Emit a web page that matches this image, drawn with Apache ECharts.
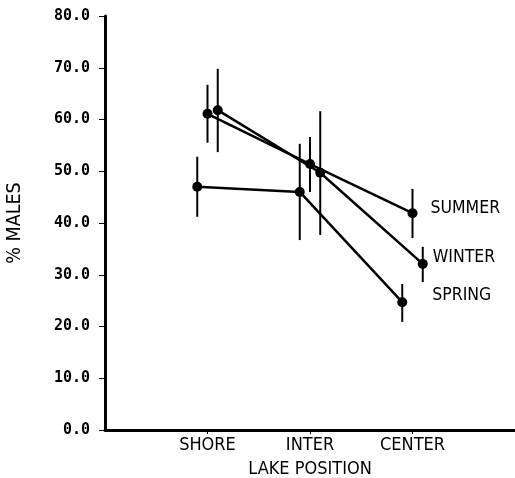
<!DOCTYPE html>
<html>
<head>
<meta charset="utf-8">
<script src="https://cdn.jsdelivr.net/npm/echarts@6/dist/echarts.min.js"></script>
<style>
  html, body { margin: 0; padding: 0; background: #fff; }
  #main { width: 515px; height: 478px; }
</style>
</head>
<body>
<div id="main"></div>
<script>
// 湖の位置 (x軸カテゴリ)
var positions = ['SHORE', 'INTER', 'CENTER'];
var seasons = ['SPRING', 'SUMMER', 'WINTER'];

// % males, with error bar low / high
var springMean = [47.0, 46.0, 24.7];
var springLow  = [41.2, 36.7, 20.9];
var springHigh = [52.8, 55.3, 28.2];

var summerMean = [61.1, 51.4, 41.9];
var summerLow  = [55.5, 46.0, 37.1];
var summerHigh = [66.7, 56.6, 46.6];

var winterMean = [61.8, 49.7, 32.1];
var winterLow  = [53.7, 37.7, 28.6];
var winterHigh = [69.8, 61.6, 35.4];

// small horizontal shift so the series don't sit on top of each other
var jitter = { SPRING: -0.1, SUMMER: 0, WINTER: 0.1 };
var labelOffset = { SPRING: [20, -7], SUMMER: [8, -5], WINTER: [0, -6] };

var seriesData = {
  SPRING: { mean: springMean, low: springLow, high: springHigh },
  SUMMER: { mean: summerMean, low: summerLow, high: summerHigh },
  WINTER: { mean: winterMean, low: winterLow, high: winterHigh }
};

var textFont = 'DejaVu Sans Condensed, Liberation Sans, Arial';

var myChart = echarts.init(document.getElementById('main'));

var series = [];
seasons.forEach(function (name) {
  var d = seriesData[name];
  var pts = d.mean.map(function (v, i) {
    var item = { value: [i + 1 + jitter[name], v] };
    if (i === d.mean.length - 1) {
      item.label = {
        show: true,
        position: 'right',
        offset: labelOffset[name],
        formatter: name,
        color: '#000',
        fontFamily: textFont,
        fontSize: 17.5
      };
    }
    return item;
  });
  series.push({
    name: name,
    type: 'line',
    data: pts,
    symbol: 'circle',
    symbolSize: 10,
    itemStyle: { color: '#000' },
    lineStyle: { color: '#000', width: 2.5 },
    z: 3
  });
  // 誤差棒
  series.push({
    name: name + ' err',
    type: 'custom',
    data: d.mean.map(function (v, i) {
      return [i + 1 + jitter[name], d.low[i], d.high[i]];
    }),
    renderItem: function (params, api) {
      var a = api.coord([api.value(0), api.value(1)]);
      var b = api.coord([api.value(0), api.value(2)]);
      return {
        type: 'line',
        shape: { x1: a[0], y1: a[1], x2: b[0], y2: b[1] },
        style: { stroke: '#000', lineWidth: 2 }
      };
    },
    z: 2
  });
});

myChart.setOption({
  animation: false,
  grid: { left: 105, right: 0, top: 16, bottom: 48, outerBoundsMode: 'none' },
  xAxis: {
    type: 'value',
    min: 0,
    max: 4,
    interval: 1,
    name: 'LAKE POSITION',
    nameLocation: 'middle',
    nameGap: 30,
    nameTextStyle: { color: '#000', fontFamily: textFont, fontSize: 18 },
    axisLine: { lineStyle: { color: '#000', width: 3 } },
    axisTick: { customValues: [1, 2, 3], length: 4, lineStyle: { color: '#000', width: 1 } },
    axisLabel: {
      customValues: [1, 2, 3],
      formatter: function (v) { return positions[Math.round(v) - 1] || ''; },
      color: '#000',
      margin: 6,
      fontFamily: textFont,
      fontSize: 18
    },
    splitLine: { show: false }
  },
  yAxis: {
    type: 'value',
    min: 0,
    max: 80,
    interval: 10,
    name: '% MALES',
    nameLocation: 'middle',
    nameRotate: 90,
    nameGap: 80,
    nameTextStyle: { color: '#000', fontFamily: textFont, fontSize: 19.5 },
    axisLine: { show: true, lineStyle: { color: '#000', width: 3 } },
    axisTick: { show: true, length: 6, lineStyle: { color: '#000', width: 1 } },
    axisLabel: {
      formatter: function (v) { return v.toFixed(1); },
      color: '#000',
      margin: 15,
      fontFamily: 'DejaVu Sans Mono',
      fontWeight: 'bold',
      fontSize: 15
    },
    splitLine: { show: false }
  },
  series: series
});
</script>
</body>
</html>
